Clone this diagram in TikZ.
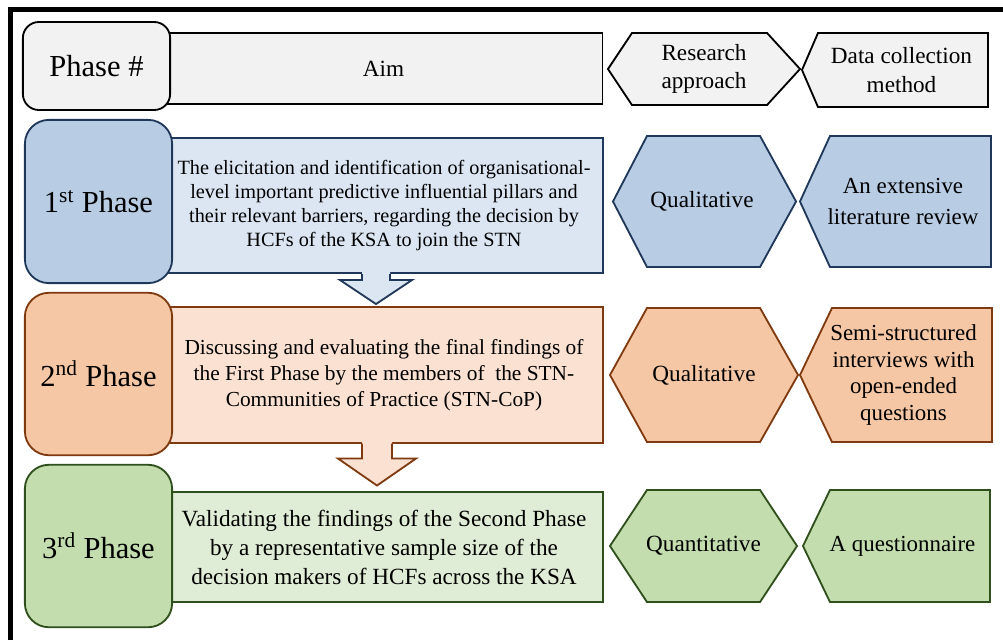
\documentclass[tikz,border=0pt]{standalone}
\usepackage{fontspec}
\setmainfont{Liberation Serif}
\usetikzlibrary{calc,backgrounds}

\definecolor{headfill}{HTML}{F2F2F2}
\definecolor{blueline}{HTML}{1F3759}
\definecolor{bluedark}{HTML}{B8CCE4}
\definecolor{bluelight}{HTML}{DCE6F2}
\definecolor{orangeline}{HTML}{7F3A10}
\definecolor{orangedark}{HTML}{F5C7A5}
\definecolor{orangelight}{HTML}{FAE1D2}
\definecolor{greenline}{HTML}{2F4F1C}
\definecolor{greendark}{HTML}{C3DDAE}
\definecolor{greenlight}{HTML}{E0EDD6}

\tikzset{
 phasebox/.style={draw,rounded corners=0.6cm,line width=1.3pt,minimum width=3.68cm,minimum height=4.06cm,font=\fontsize{21.7}{26}\selectfont},
 aimbox/.style={draw,line width=1.3pt,minimum width=10.95cm,minimum height=3.38cm,align=center,font=\fontsize{14.4}{17}\selectfont},
 approach/.style={rectangle,outer sep=0pt,inner sep=0pt,align=center,font=\fontsize{16.5}{20}\selectfont},
 method/.style={rectangle,outer sep=0pt,inner sep=0pt,align=center,font=\fontsize{16.3}{20}\selectfont},
 hexline/.style={line width=1.3pt,line join=miter},
 headrow/.style={fill=headfill,draw=black},
 bluerow/.style={fill=bluedark,draw=blueline},
 orangerow/.style={fill=orangedark,draw=orangeline},
 greenrow/.style={fill=greendark,draw=greenline},
}

\begin{document}
\begin{tikzpicture}[x=0.025cm,y=-0.025cm]
 \useasboundingbox (0,0) rectangle (1003,640);
 % frame
 \draw[line width=3.5pt] (10.5,640) -- (10.5,9.5) -- (1003,9.5);

 % header row
 \node[aimbox,headrow,minimum height=1.78cm,font=\fontsize{16.5}{20}\selectfont] (aim0) at (383.5,68.5) {Aim};
 \node[phasebox,headrow,rounded corners=0.4cm,minimum height=2.2cm] (ph0) at (96.5,66) {Phase \#};
 \node[approach,minimum width=4.8cm,minimum height=1.8cm] (ra0) at (704,69) {Research\\approach};
 \node[method,minimum width=4.325cm,minimum height=1.85cm,font=\fontsize{16.5}{20}\selectfont] (dc0) at (901.5,70) {Data collection\\method};

 % 1st phase
 \node[aimbox,bluerow,fill=bluelight] (aim1) at (384,205.5) {The elicitation and identification of organisational-\\level important predictive influential pillars and\\their relevant barriers, regarding the decision by\\HCFs of the KSA to join the STN};
 \node[phasebox,bluerow,minimum height=4.08cm] (ph1) at (98.5,201.5) {1\textsuperscript{st} Phase};
 \node[approach,minimum width=4.575cm,minimum height=3.275cm] (ra1) at (702,201.5) {Qualitative};
 \node[method,minimum width=4.4cm,minimum height=3.275cm,font=\fontsize{16.3}{21.5}\selectfont] (dc1) at (903,201.5) {An extensive\\literature review};

 % 2nd phase
 \node[aimbox,orangerow,fill=orangelight,font=\fontsize{15.2}{18.5}\selectfont] (aim2) at (384,375) {Discussing and evaluating the final findings of\\the First Phase by the members of \ the STN-\\Communities of Practice (STN-CoP)};
 \node[phasebox,orangerow] (ph2) at (98.5,374) {2\textsuperscript{nd} Phase};
 \node[approach,minimum width=4.7cm,minimum height=3.35cm] (ra2) at (704,375) {Qualitative};
 \node[method,minimum width=4.425cm,minimum height=3.35cm,font=\fontsize{16.3}{19}\selectfont] (dc2) at (903.5,375) {Semi-structured\\interviews with\\open-ended\\questions};

 % 3rd phase
 \node[aimbox,greenrow,fill=greenlight,minimum height=2.75cm,font=\fontsize{16.5}{20.6}\selectfont] (aim3) at (384,547) {Validating the findings of the Second Phase\\by a representative sample size of the\\decision makers of HCFs across the KSA};
 \node[phasebox,greenrow] (ph3) at (98.5,546) {3\textsuperscript{rd} Phase};
 \node[approach,minimum width=4.675cm,minimum height=2.8cm] (ra3) at (703.5,546) {Quantitative};
 \node[method,minimum width=4.375cm,minimum height=2.8cm] (dc3) at (902.5,546) {A questionnaire};

 % hexagon and pointer outlines
 \begin{scope}[on background layer]
  \draw[hexline,headrow] (ra0.west) -- ($(ra0.north west)+(24,0)$) -- ($(ra0.north east)+(-33,0)$) -- (ra0.east) -- ($(ra0.south east)+(-33,0)$) -- ($(ra0.south west)+(24,0)$) -- cycle;
  \draw[hexline,headrow] ($(dc0.west)+(-13,0)$) -- ($(dc0.north west)+(3,0)$) -- (dc0.north east) -- (dc0.south east) -- ($(dc0.south west)+(3,0)$) -- cycle;
  \draw[hexline,bluerow] ($(ra1.west)+(2.5,0)$) -- ($(ra1.north west)+(36.5,0)$) -- ($(ra1.north east)+(-33.5,0)$) -- ($(ra1.east)+(2.5,0)$) -- ($(ra1.south east)+(-33.5,0)$) -- ($(ra1.south west)+(36.5,0)$) -- cycle;
  \draw[hexline,bluerow] ($(dc1.west)+(-15,0)$) -- ($(dc1.north west)+(15,0)$) -- (dc1.north east) -- (dc1.south east) -- ($(dc1.south west)+(15,0)$) -- cycle;
  \draw[hexline,orangerow] (ra2.west) -- ($(ra2.north west)+(37,0)$) -- ($(ra2.north east)+(-38,0)$) -- (ra2.east) -- ($(ra2.south east)+(-38,0)$) -- ($(ra2.south west)+(37,0)$) -- cycle;
  \draw[hexline,orangerow] ($(dc2.west)+(-15,0)$) -- ($(dc2.north west)+(17,0)$) -- (dc2.north east) -- (dc2.south east) -- ($(dc2.south west)+(17,0)$) -- cycle;
  \draw[hexline,greenrow] (ra3.west) -- ($(ra3.north west)+(37,0)$) -- ($(ra3.north east)+(-37,0)$) -- (ra3.east) -- ($(ra3.south east)+(-37,0)$) -- ($(ra3.south west)+(37,0)$) -- cycle;
  \draw[hexline,greenrow] ($(dc3.west)+(-12,0)$) -- ($(dc3.north west)+(15,0)$) -- (dc3.north east) -- (dc3.south east) -- ($(dc3.south west)+(15,0)$) -- cycle;
 \end{scope}

 % arrows between phases
 \coordinate (s1) at ($(aim1.south)+(-8,0)$);
 \fill[bluelight] ($(s1)+(-14,-4)$) -- ($(s1)+(-14,6)$) -- ($(s1)+(-36,6)$) -- ($(s1)+(0,30)$) -- ($(s1)+(36,6)$) -- ($(s1)+(14,6)$) -- ($(s1)+(14,-4)$) -- cycle;
 \draw[blueline,line width=1.3pt] ($(s1)+(-14,0)$) -- ($(s1)+(-14,6)$) -- ($(s1)+(-36,6)$) -- ($(s1)+(0,30)$) -- ($(s1)+(36,6)$) -- ($(s1)+(14,6)$) -- ($(s1)+(14,0)$);

 \coordinate (s2) at ($(aim2.south)+(-7,0)$);
 \fill[orangelight] ($(s2)+(-15,-4)$) -- ($(s2)+(-15,15)$) -- ($(s2)+(-39,15)$) -- ($(s2)+(0,42)$) -- ($(s2)+(39,15)$) -- ($(s2)+(15,15)$) -- ($(s2)+(15,-4)$) -- cycle;
 \draw[orangeline,line width=1.3pt] ($(s2)+(-15,0)$) -- ($(s2)+(-15,15)$) -- ($(s2)+(-39,15)$) -- ($(s2)+(0,42)$) -- ($(s2)+(39,15)$) -- ($(s2)+(15,15)$) -- ($(s2)+(15,0)$);
\end{tikzpicture}
\end{document}
